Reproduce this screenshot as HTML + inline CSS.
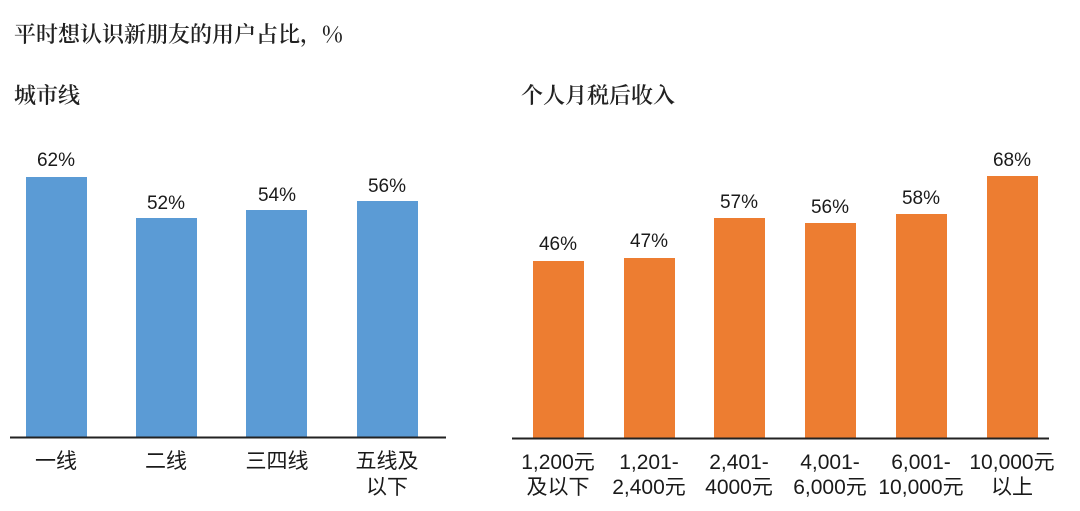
<!DOCTYPE html>
<html><head><meta charset="utf-8"><style>
body{margin:0;background:#fff;}
svg text{font-family:"Liberation Sans","Noto Sans CJK SC",sans-serif;fill:#1a1a1a;}
.t{font-family:"Noto Serif CJK SC","Noto Sans CJK SC",serif;font-size:22px;font-weight:600;fill:#222;}
.v{font-size:19px;text-anchor:middle;}
.c{font-size:21px;text-anchor:middle;}
</style></head><body>
<svg width="1080" height="506" xmlns="http://www.w3.org/2000/svg">
<text class="t" x="14" y="42">平时想认识新朋友的用户占比，%</text>
<text class="t" x="14" y="103">城市线</text>
<text class="t" x="521" y="103">个人月税后收入</text>
<g fill="#5b9bd5">
<rect x="26" y="177" width="61" height="260"/>
<rect x="136" y="218" width="61" height="219"/>
<rect x="246" y="210" width="61" height="227"/>
<rect x="357" y="201" width="61" height="236"/>
</g>
<line x1="10" y1="437.5" x2="446" y2="437.5" stroke="#222" stroke-width="2"/>
<text class="v" x="56" y="166">62%</text>
<text class="v" x="166" y="209">52%</text>
<text class="v" x="277" y="201">54%</text>
<text class="v" x="387" y="192">56%</text>
<text class="c" x="56" y="468">一线</text>
<text class="c" x="166" y="468">二线</text>
<text class="c" x="277" y="468">三四线</text>
<text class="c" x="387" y="468">五线及</text>
<text class="c" x="387" y="494">以下</text>
<g fill="#ed7d31">
<rect x="533" y="261" width="51" height="177"/>
<rect x="624" y="258" width="51" height="180"/>
<rect x="714" y="218" width="51" height="220"/>
<rect x="805" y="223" width="51" height="215"/>
<rect x="896" y="214" width="51" height="224"/>
<rect x="987" y="176" width="51" height="262"/>
</g>
<line x1="512" y1="438.5" x2="1049" y2="438.5" stroke="#222" stroke-width="2"/>
<text class="v" x="558" y="250">46%</text>
<text class="v" x="649" y="247">47%</text>
<text class="v" x="739" y="208">57%</text>
<text class="v" x="830" y="213">56%</text>
<text class="v" x="921" y="204">58%</text>
<text class="v" x="1012" y="166">68%</text>
<text class="c" x="558" y="469">1,200元</text><text class="c" x="558" y="494">及以下</text>
<text class="c" x="649" y="469">1,201-</text><text class="c" x="649" y="494">2,400元</text>
<text class="c" x="739" y="469">2,401-</text><text class="c" x="739" y="494">4000元</text>
<text class="c" x="830" y="469">4,001-</text><text class="c" x="830" y="494">6,000元</text>
<text class="c" x="921" y="469">6,001-</text><text class="c" x="921" y="494">10,000元</text>
<text class="c" x="1012" y="469">10,000元</text><text class="c" x="1012" y="494">以上</text>
</svg>
</body></html>
